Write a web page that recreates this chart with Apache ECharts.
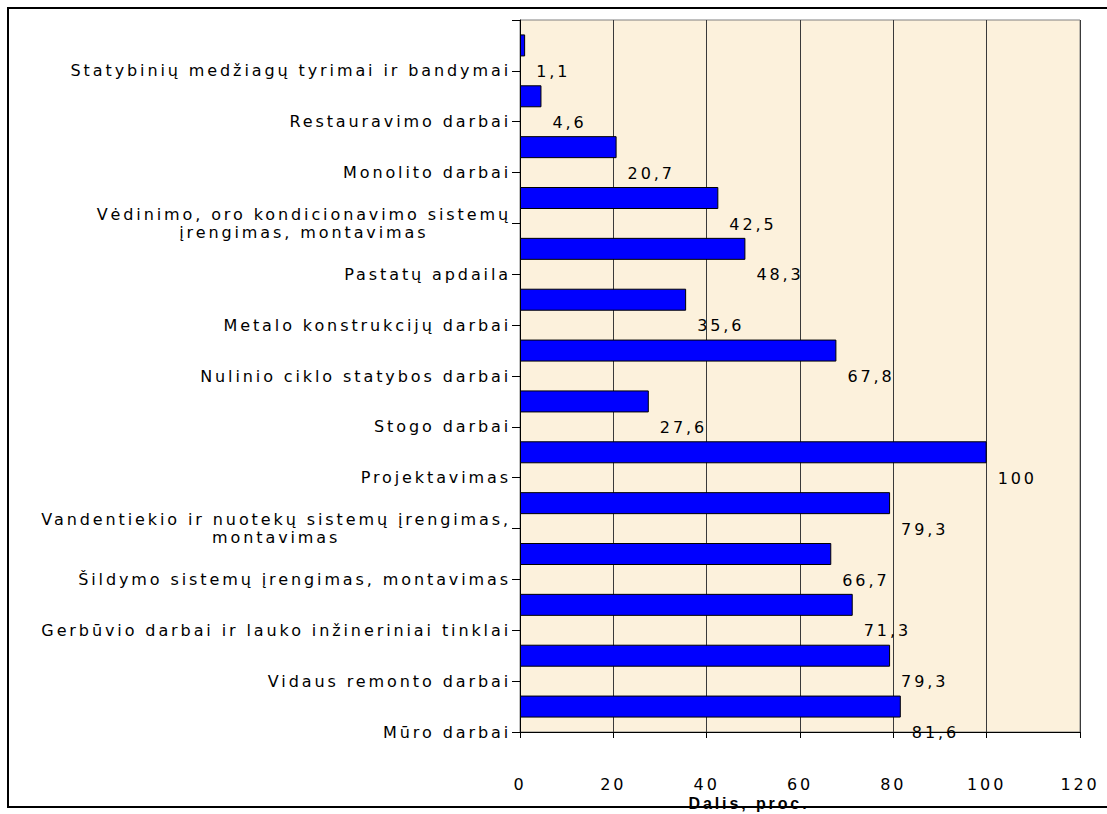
<!DOCTYPE html>
<html>
<head>
<meta charset="utf-8">
<script src="https://cdn.jsdelivr.net/npm/echarts@6/dist/echarts.min.js"></script>
<style>
  html, body { margin: 0; padding: 0; background: #fff; }
  #echart { width: 1107px; height: 814px; letter-spacing: 2.9px; }
</style>
</head>
<body>
<div id="echart"></div>
<script>
var categories = [
  'Statybinių medžiagų tyrimai ir bandymai',
  'Restauravimo darbai',
  'Monolito darbai',
  'Vėdinimo, oro kondicionavimo sistemų\nįrengimas, montavimas',
  'Pastatų apdaila',
  'Metalo konstrukcijų darbai',
  'Nulinio ciklo statybos darbai',
  'Stogo darbai',
  'Projektavimas',
  'Vandentiekio ir nuotekų sistemų įrengimas,\nmontavimas',
  'Šildymo sistemų įrengimas, montavimas',
  'Gerbūvio darbai ir lauko inžineriniai tinklai',
  'Vidaus remonto darbai',
  'Mūro darbai'
];
var shares = [1.1, 4.6, 20.7, 42.5, 48.3, 35.6, 67.8, 27.6, 100, 79.3, 66.7, 71.3, 79.3, 81.6];
var xTicks = [0, 20, 40, 60, 80, 100, 120];

// the text in the picture is drawn wide, so measure it with the same spacing
var SPACING = '2.9px';
var mctx = document.createElement('canvas').getContext('2d');
if (echarts.setPlatformAPI) {
  echarts.setPlatformAPI({
    measureText: function (text, font) {
      mctx.font = font || '12px sans-serif';
      mctx.letterSpacing = SPACING;
      return mctx.measureText(text);
    }
  });
}

var myChart = echarts.init(document.getElementById('echart'), null, { renderer: 'svg' });

var font = '"DejaVu Sans", Verdana, sans-serif';

option = {
  animation: false,
  backgroundColor: '#fff',
  textStyle: { fontFamily: font, color: '#000' },
  graphic: [{
    type: 'rect',
    z: -1,
    shape: { x: 8, y: 8, width: 1120, height: 799 },
    style: { fill: 'none', stroke: '#000', lineWidth: 2 }
  }],
  grid: {
    left: 520, right: 27, top: 20, bottom: 82,
    outerBoundsMode: 'none',
    containLabel: false,
    show: true,
    backgroundColor: '#FCF1DC',
    borderColor: '#808080',
    borderWidth: 1
  },
  xAxis: {
    type: 'value',
    min: xTicks[0],
    max: xTicks[xTicks.length - 1],
    interval: 20,
    name: 'Dalis, proc.',
    nameLocation: 'middle',
    nameGap: 62,
    nameMoveOverlap: false,
    nameTextStyle: {
      fontWeight: 'bold', fontSize: 16, color: '#000',
      fontFamily: '"Liberation Sans", Arial, sans-serif',
      padding: [0, 102, 0, 0]
    },
    axisLine: { show: true, lineStyle: { color: '#000', width: 1 } },
    axisTick: { show: true, length: 6, lineStyle: { color: '#000' } },
    axisLabel: { margin: 43, fontSize: 16, color: '#000', fontFamily: font },
    splitLine: { show: true, lineStyle: { color: '#3a3a3a', width: 1 } }
  },
  yAxis: [{
    type: 'category',
    data: categories,
    inverse: true,
    position: 'left',
    axisLine: { show: false },
    axisTick: { show: false },
    axisLabel: { show: false },
    splitLine: { show: false }
  }, {
    type: 'category',
    data: [''].concat(categories),
    inverse: true,
    boundaryGap: false,
    position: 'left',
    offset: 0,
    axisLine: { show: true, lineStyle: { color: '#000', width: 1 } },
    axisTick: { show: true, length: 8, lineStyle: { color: '#000' } },
    axisLabel: {
      interval: 0,
      margin: 9,
      fontSize: 16,
      color: '#000',
      fontFamily: font,
      formatter: function (v) {
        return v.split('\n').map(function (s) { return '{c|' + s + '}'; }).join('\n');
      },
      rich: {
        c: { align: 'center', fontSize: 16, lineHeight: 18, fontFamily: font, color: '#000' }
      }
    },
    splitLine: { show: false }
  }],
  series: [{
    type: 'bar',
    yAxisIndex: 0,
    data: shares,
    barWidth: 22,
    itemStyle: { color: '#0000FF', borderColor: '#000', borderWidth: 1 },
    label: {
      show: true,
      position: 'right',
      offset: [6, 26],
      fontSize: 16,
      color: '#000',
      fontFamily: font,
      formatter: function (p) { return String(p.value).replace('.', ','); }
    }
  }]
};

myChart.setOption(option);
</script>
</body>
</html>
